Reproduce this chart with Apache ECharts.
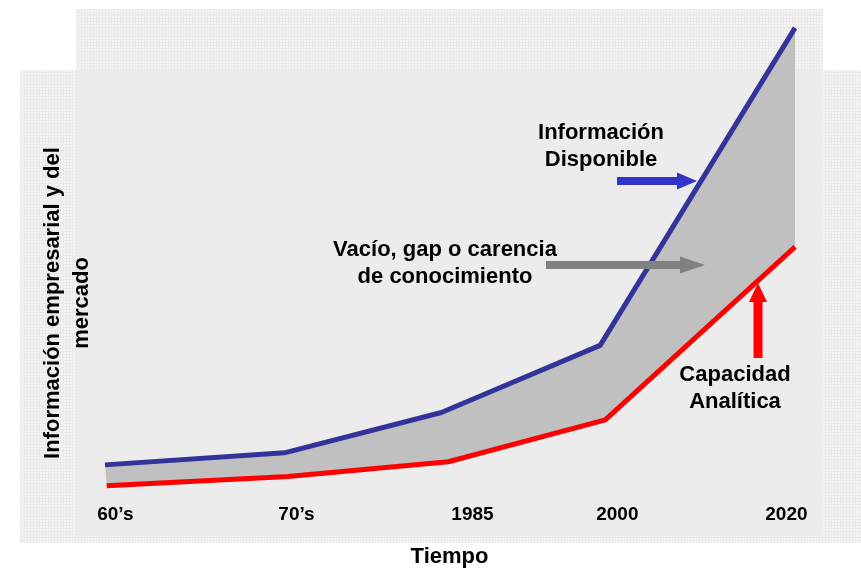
<!DOCTYPE html>
<html>
<head>
<meta charset="utf-8">
<script src="https://cdn.jsdelivr.net/npm/echarts@6/dist/echarts.min.js"></script>
<style>
  html, body { margin: 0; padding: 0; background: #fff; }
  #chart { width: 861px; height: 573px; }
</style>
</head>
<body>
<div id="chart"></div>
<script>
// tick labels and where they sit along the time axis
const categories = ['60’s', '70’s', '1985', '2000', '2020']
const labelPos = [0.06, 1.11, 2.13, 2.97, 3.95]

// Información Disponible (blue)
const blueX = [0, 1.04, 1.95, 2.87, 4]
const blueVals = [13.0, 15.3, 23.0, 35.8, 96.4]

// Capacidad Analítica (red)
const redX = [0.01, 1.06, 1.99, 2.9, 4]
const redVals = [9.0, 10.8, 13.6, 21.6, 54.6]

const font = 'Liberation Sans, Arial, sans-serif'

const zip = (xs, ys) => xs.map((x, i) => [x, ys[i]])
const bluePts = zip(blueX, blueVals)
const redPts = zip(redX, redVals)

// small grid texture like the slide background
const tex = document.createElement('canvas')
tex.width = 3
tex.height = 3
const tctx = tex.getContext('2d')
tctx.fillStyle = '#f4f4f4'
tctx.fillRect(0, 0, 3, 3)
tctx.fillStyle = '#eaeaea'
tctx.fillRect(0, 0, 3, 1)
tctx.fillRect(0, 0, 1, 3)
const texFill = { image: tex, repeat: 'repeat' }

// horizontal arrow: tail x, tip x, center y
const hArrow = (x0, x1, y, shaft, headLen, headW, color) => ({
  type: 'polygon',
  z: 10,
  shape: {
    points: [
      [x0, y - shaft / 2], [x1 - headLen, y - shaft / 2], [x1 - headLen, y - headW / 2],
      [x1, y], [x1 - headLen, y + headW / 2], [x1 - headLen, y + shaft / 2], [x0, y + shaft / 2]
    ]
  },
  style: { fill: color }
})
// vertical arrow pointing up: center x, tail y, tip y
const vArrow = (x, y0, y1, shaft, headLen, headW, color) => ({
  type: 'polygon',
  z: 10,
  shape: {
    points: [
      [x - shaft / 2, y0], [x - shaft / 2, y1 + headLen], [x - headW / 2, y1 + headLen],
      [x, y1], [x + headW / 2, y1 + headLen], [x + shaft / 2, y1 + headLen], [x + shaft / 2, y0]
    ]
  },
  style: { fill: color }
})
const note = (x, y, text) => ({
  type: 'text',
  z: 10,
  x: x,
  y: y,
  style: {
    text: text,
    font: 'bold 22px ' + font,
    fill: '#000',
    align: 'center',
    verticalAlign: 'middle',
    lineHeight: 27
  }
})

const myChart = echarts.init(document.getElementById('chart'))
myChart.setOption({
  animation: false,
  grid: { left: 76, right: 38, top: 9, bottom: 37 },
  xAxis: {
    type: 'value',
    min: -0.168,
    max: 4.162,
    name: 'Tiempo',
    nameLocation: 'middle',
    nameGap: 13,
    nameTextStyle: { fontFamily: font, fontWeight: 'bold', fontSize: 22, color: '#000', verticalAlign: 'top' },
    axisLine: { show: false },
    axisTick: { show: false },
    splitLine: { show: false },
    axisLabel: {
      customValues: labelPos,
      inside: true,
      margin: 9,
      fontFamily: font,
      fontWeight: 'bold',
      fontSize: 19,
      color: '#000',
      formatter: (v) => categories[labelPos.indexOf(v)] || ''
    }
  },
  yAxis: {
    type: 'value',
    min: 0,
    max: 100,
    name: 'Información empresarial y del\nmercado',
    nameLocation: 'middle',
    nameRotate: 90,
    nameGap: -20,
    nameTextStyle: {
      fontFamily: font,
      fontWeight: 'bold',
      fontSize: 22,
      color: '#000',
      lineHeight: 29,
      align: 'center',
      padding: [0, 64, 0, 0]
    },
    axisLine: { show: false },
    axisTick: { show: false },
    axisLabel: { show: false },
    splitLine: { show: false }
  },
  graphic: [
    { type: 'rect', z: 0, shape: { x: 20, y: 70, width: 841, height: 473 }, style: { fill: texFill } },
    { type: 'rect', z: 0, shape: { x: 76, y: 9, width: 747, height: 61 }, style: { fill: texFill } },
    { type: 'rect', z: 0, shape: { x: 76, y: 70, width: 747, height: 466 }, style: { fill: '#ececec' } },
    note(601, 146, 'Información\nDisponible'),
    hArrow(617, 697, 181, 8, 20, 17, '#3333cc'),
    note(445, 263, 'Vacío, gap o carencia\nde conocimiento'),
    hArrow(546, 705, 265, 8, 25, 17, '#808080'),
    vArrow(758, 358, 283, 9, 19, 18, '#ff0000'),
    note(735, 388, 'Capacidad\nAnalítica')
  ],
  series: [
    {
      name: 'gap',
      type: 'custom',
      z: 1,
      data: [[0, 0]],
      encode: { x: 0, y: 1 },
      renderItem: (params, api) => {
        const pts = bluePts.map(p => api.coord(p))
          .concat(redPts.slice().reverse().map(p => api.coord(p)))
        return { type: 'polygon', shape: { points: pts }, style: { fill: '#c0c0c0' } }
      }
    },
    {
      name: 'Información Disponible',
      type: 'line',
      z: 3,
      data: bluePts,
      symbol: 'none',
      lineStyle: { color: '#333399', width: 5 }
    },
    {
      name: 'Capacidad Analítica',
      type: 'line',
      z: 3,
      data: redPts,
      symbol: 'none',
      lineStyle: { color: '#ff0000', width: 5 }
    }
  ]
})
</script>
</body>
</html>
